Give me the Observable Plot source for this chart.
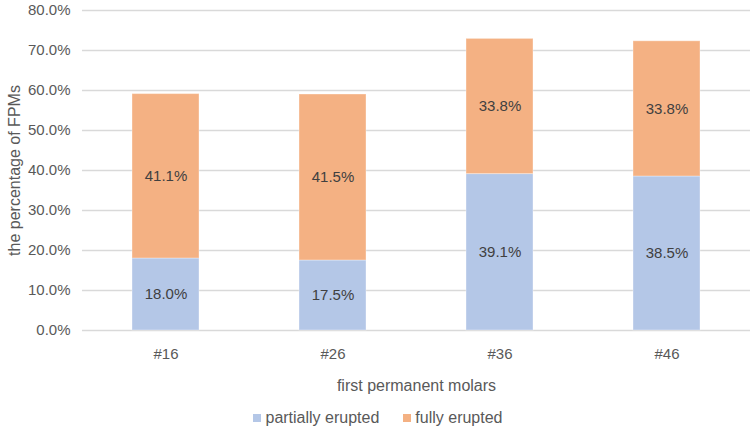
<!DOCTYPE html>
<html>
<head>
<meta charset="utf-8">
<script src="https://cdn.jsdelivr.net/npm/d3@7"></script>
<script src="https://cdn.jsdelivr.net/npm/@observablehq/plot@0.6"></script>
<style>
  html, body { margin: 0; padding: 0; background: #fff; }
  body { width: 756px; height: 431px; overflow: hidden; font-family: "Liberation Sans", Arial, sans-serif; }
  #legend { display: flex; justify-content: center; gap: 24px; font-size: 16px; color: #595959; margin-top: 9px; padding-left: 0px; }
  #legend span.sw { display: inline-block; width: 8px; height: 8px; margin-right: 4px; vertical-align: 1px; }
</style>
</head>
<body>
<div id="chart"></div>
<div id="legend"></div>
<script>
const categories = ["#16", "#26", "#36", "#46"];
const seriesNames = ["partially erupted", "fully erupted"];
const partiallyErupted = [18.0, 17.5, 39.1, 38.5];
const fullyErupted = [41.1, 41.5, 33.8, 33.8];
const yTicks = [0, 10, 20, 30, 40, 50, 60, 70, 80];
const colors = ["#B4C7E7", "#F4B183"];

const data = [];
categories.forEach((c, i) => {
  data.push({cat: c, series: seriesNames[0], value: partiallyErupted[i]});
  data.push({cat: c, series: seriesNames[1], value: fullyErupted[i]});
});

const chart = Plot.plot({
  width: 756,
  height: 400,
  marginTop: 10,
  marginLeft: 82,
  marginRight: 6,
  marginBottom: 70,
  style: {fontFamily: "Liberation Sans, Arial, sans-serif", fontSize: "15px", color: "#595959", background: "#fff"},
  x: {domain: categories, paddingInner: 0.6, paddingOuter: 0.3, label: null},
  y: {domain: [0, 80], label: null},
  color: {domain: seriesNames, range: colors},
  marks: [
    Plot.gridY(yTicks, {stroke: "#d9d9d9", strokeOpacity: 1, strokeWidth: 1.5}),
    Plot.barY(data, {x: "cat", y: "value", fill: "series", stroke: "#fff", strokeOpacity: 0.35, strokeWidth: 1}),
    Plot.text(data, Plot.stackY({x: "cat", y: "value", z: "series", text: d => d.value.toFixed(1) + "%", fill: "#404040", fontSize: 15})),
    Plot.axisY(yTicks, {tickSize: 0, tickPadding: 12, tickFormat: d => d.toFixed(1) + "%", fontSize: 15, fill: "#595959", label: null}),
    Plot.axisX({tickSize: 0, tickPadding: 18, fontSize: 15, fill: "#595959", label: null}),
    Plot.text(["the percentage of FPMs"], {frameAnchor: "left", dx: -68, rotate: -90, textAnchor: "middle", fontSize: 16, fill: "#595959"}),
    Plot.text(["first permanent molars"], {frameAnchor: "bottom", dy: 60, fontSize: 16, fill: "#595959"})
  ]
});
document.getElementById("chart").appendChild(chart);

const legend = document.getElementById("legend");
seriesNames.forEach((s, i) => {
  const item = document.createElement("div");
  item.innerHTML = `<span class="sw" style="background:${colors[i]}"></span>${s}`;
  legend.appendChild(item);
});
</script>
</body>
</html>
